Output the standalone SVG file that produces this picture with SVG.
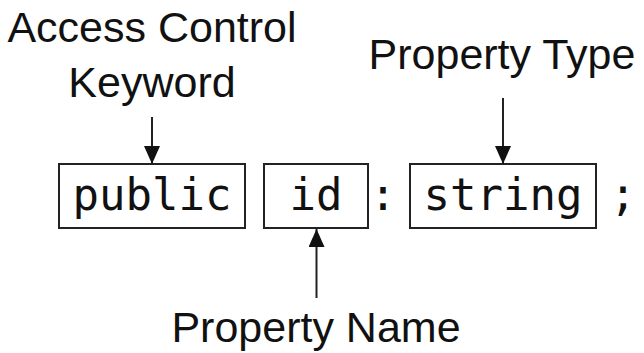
<svg xmlns="http://www.w3.org/2000/svg" width="644" height="353" viewBox="0 0 644 353">
<style>
.lbl{font-family:"Liberation Sans","Open Sans",sans-serif;font-size:43px;fill:#111;text-anchor:middle}
.code{font-family:"DejaVu Sans Mono","Liberation Mono",monospace;font-size:44px;fill:#111;text-anchor:middle}
.box{fill:#fff;stroke:#222;stroke-width:2}
.conn{stroke:#222;stroke-width:2;fill:none}
</style>
<defs>
<marker id="ah" viewBox="0 0 18 16" refX="18" refY="8" markerWidth="18" markerHeight="16" markerUnits="userSpaceOnUse" orient="auto">
<path d="M0,0 L18,8 L0,16 Z" fill="#111"/>
</marker>
</defs>
<rect width="644" height="353" fill="#fff"/>
<g id="label-access">
<text class="lbl" x="152" y="42">Access Control</text>
<text class="lbl" x="152" y="97">Keyword</text>
</g>
<g id="label-type"><text class="lbl" x="502" y="69">Property Type</text></g>
<g id="label-name"><text class="lbl" x="316" y="342">Property Name</text></g>
<g id="node-public">
<rect class="box" x="59" y="164" width="186" height="64"/>
<text class="code" x="152" y="210">public</text>
</g>
<g id="node-id">
<rect class="box" x="264" y="164" width="104" height="64"/>
<text class="code" x="316" y="210">id</text>
</g>
<g id="colon"><text class="code" x="383" y="210">:</text></g>
<g id="node-string">
<rect class="box" x="410" y="164" width="186" height="64"/>
<text class="code" x="503" y="210">string</text>
</g>
<g id="semicolon"><text class="code" x="623" y="210">;</text></g>
<g id="connectors">
<line class="conn" x1="152" y1="117" x2="152" y2="164" marker-end="url(#ah)"/>
<line class="conn" x1="503" y1="98" x2="503" y2="164" marker-end="url(#ah)"/>
<line class="conn" x1="316.5" y1="298" x2="316.5" y2="229" marker-end="url(#ah)"/>
</g>
</svg>
